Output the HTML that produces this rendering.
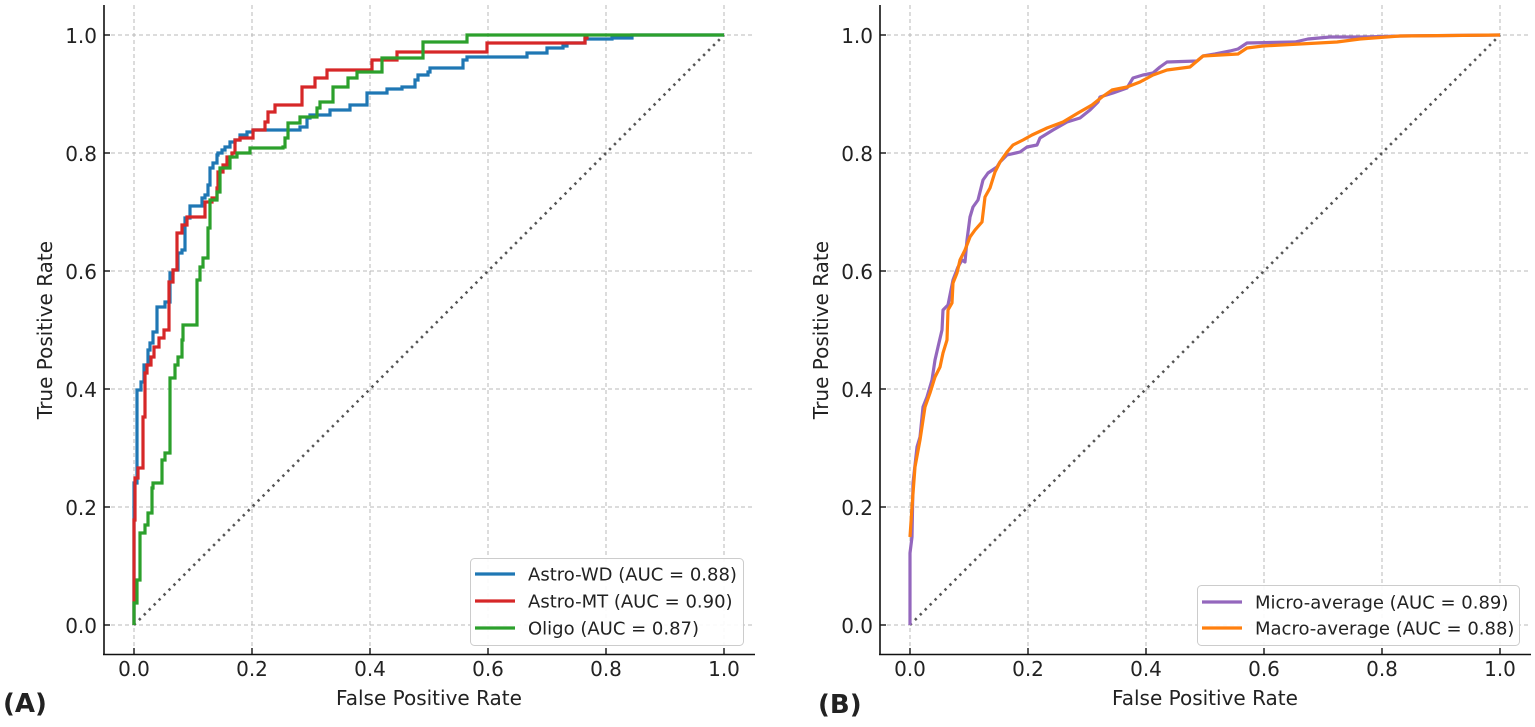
<!DOCTYPE html>
<html>
<head>
<meta charset="utf-8">
<style>
html,body{margin:0;padding:0;background:#fff;}
svg{display:block;}
text{font-family:"DejaVu Sans","Liberation Sans",sans-serif;fill:#222;}
</style>
</head>
<body>
<svg width="1535" height="727" viewBox="0 0 1535 727" xmlns="http://www.w3.org/2000/svg">
<rect width="1535" height="727" fill="#fff"/>

<!-- ================= PANEL A ================= -->
<g stroke="#b8b8b8" stroke-width="1" stroke-dasharray="4,3" fill="none">
  <line x1="134" y1="5" x2="134" y2="654"/>
  <line x1="252" y1="5" x2="252" y2="654"/>
  <line x1="370" y1="5" x2="370" y2="654"/>
  <line x1="488" y1="5" x2="488" y2="654"/>
  <line x1="606" y1="5" x2="606" y2="654"/>
  <line x1="724" y1="5" x2="724" y2="654"/>
  <line x1="104" y1="625" x2="754" y2="625"/>
  <line x1="104" y1="507" x2="754" y2="507"/>
  <line x1="104" y1="389" x2="754" y2="389"/>
  <line x1="104" y1="271" x2="754" y2="271"/>
  <line x1="104" y1="153" x2="754" y2="153"/>
  <line x1="104" y1="35" x2="754" y2="35"/>
</g>
<line x1="134" y1="625" x2="724" y2="35" stroke="#555" stroke-width="2.6" stroke-dasharray="2.4,4.6" />
<g fill="none" stroke-width="3.2" stroke-linejoin="miter">
<path stroke="#1f77b4" d="M134,625 V483 H137 V390 H141 V382 H144 V365 H148 V350 H150 V343 H153 V332 H157 V307 H165 V302 H170 V273 H173 V270 H178 V253 H182 V250 H185 V218 H190 V206 H202 V198 H205 V195 H208 V185 H210 V168 H213 V163 H217 V155 H218 V153 H222 V150 H225 V147 H230 V142 H235 V140 H240 V135 H247 V132 H253 V130 H300 V127 H307 V118 H310 V115 H330 V110 H350 V105 H367 V93 H387 V89 H402 V87 H415 V80 H418 V75 H428 V72 H430 V68 H463 V60 H467 V57 H527 V53 H547 V48 H563 V46 H567 V43 H585 V39 H612 V38 H632 V35 H724"/>
<path stroke="#d62728" d="M134,625 V520 H135 V478 H138 V468 H143 V417 H145 V373 H147 V365 H151 V357 H154 V347 H159 V338 H164 V330 H169 V282 H173 V270 H177 V233 H182 V225 H187 V217 H205 V202 H212 V198 H217 V188 H218 V172 H223 V165 H227 V157 H232 V153 H235 V140 H240 V138 H253 V130 H265 V122 H268 V112 H275 V105 H302 V87 H315 V78 H327 V70 H372 V60 H397 V52 H487 V43 H585 V38 H587 V35"/>
<path stroke="#2ca02c" d="M134,625 V603 H137 V580 H140 V533 H145 V525 H148 V513 H152 V488 H153 V483 H162 V460 H165 V453 H170 V378 H175 V365 H178 V357 H182 V340 H183 V325 H197 V280 H200 V267 H203 V258 H208 V228 H210 V200 H217 V192 H220 V168 H230 V157 H237 V153 H250 V148 H283 V147 H285 V138 H288 V123 H300 V117 H317 V108 H320 V102 H333 V87 H348 V78 H357 V72 H382 V58 H423 V50 V42 H467 V35 H724"/>
</g>
<!-- spines -->
<g stroke="#111" stroke-width="1.6">
  <line x1="104" y1="5" x2="104" y2="655"/>
  <line x1="103" y1="654.5" x2="755" y2="654.5"/>
</g>
<g stroke="#111" stroke-width="1.4">
  <line x1="104" y1="625" x2="110" y2="625"/>
  <line x1="104" y1="507" x2="110" y2="507"/>
  <line x1="104" y1="389" x2="110" y2="389"/>
  <line x1="104" y1="271" x2="110" y2="271"/>
  <line x1="104" y1="153" x2="110" y2="153"/>
  <line x1="104" y1="35" x2="110" y2="35"/>
  <line x1="134" y1="654" x2="134" y2="648"/>
  <line x1="252" y1="654" x2="252" y2="648"/>
  <line x1="370" y1="654" x2="370" y2="648"/>
  <line x1="488" y1="654" x2="488" y2="648"/>
  <line x1="606" y1="654" x2="606" y2="648"/>
  <line x1="724" y1="654" x2="724" y2="648"/>
</g>
<g font-size="20" text-anchor="end" dominant-baseline="central">
  <text x="97" y="626">0.0</text>
  <text x="97" y="508">0.2</text>
  <text x="97" y="390">0.4</text>
  <text x="97" y="272">0.6</text>
  <text x="97" y="154">0.8</text>
  <text x="97" y="36">1.0</text>
</g>
<g font-size="20" text-anchor="middle">
  <text x="134" y="676">0.0</text>
  <text x="252" y="676">0.2</text>
  <text x="370" y="676">0.4</text>
  <text x="488" y="676">0.6</text>
  <text x="606" y="676">0.8</text>
  <text x="724" y="676">1.0</text>
</g>
<text x="429" y="705" font-size="20" text-anchor="middle">False Positive Rate</text>
<text transform="translate(52,330) rotate(-90)" font-size="20" text-anchor="middle">True Positive Rate</text>
<!-- legend A -->
<rect x="470.5" y="558.5" width="273" height="87" rx="4" fill="#fff" fill-opacity="0.92" stroke="#cccccc" stroke-width="1"/>
<g stroke-width="3.2">
  <line x1="475" y1="574" x2="515" y2="574" stroke="#1f77b4"/>
  <line x1="475" y1="601" x2="515" y2="601" stroke="#d62728"/>
  <line x1="475" y1="628" x2="515" y2="628" stroke="#2ca02c"/>
</g>
<g font-size="18" dominant-baseline="central">
  <text x="528" y="575">Astro-WD (AUC = 0.88)</text>
  <text x="528" y="602">Astro-MT (AUC = 0.90)</text>
  <text x="528" y="629">Oligo (AUC = 0.87)</text>
</g>
<text x="3" y="712" font-size="26" font-weight="bold" fill="#111">(A)</text>

<!-- ================= PANEL B ================= -->
<g stroke="#b8b8b8" stroke-width="1" stroke-dasharray="4,3" fill="none">
  <line x1="910" y1="5" x2="910" y2="654"/>
  <line x1="1028" y1="5" x2="1028" y2="654"/>
  <line x1="1146" y1="5" x2="1146" y2="654"/>
  <line x1="1264" y1="5" x2="1264" y2="654"/>
  <line x1="1382" y1="5" x2="1382" y2="654"/>
  <line x1="1500" y1="5" x2="1500" y2="654"/>
  <line x1="880" y1="625" x2="1530" y2="625"/>
  <line x1="880" y1="507" x2="1530" y2="507"/>
  <line x1="880" y1="389" x2="1530" y2="389"/>
  <line x1="880" y1="271" x2="1530" y2="271"/>
  <line x1="880" y1="153" x2="1530" y2="153"/>
  <line x1="880" y1="35" x2="1530" y2="35"/>
</g>
<line x1="910" y1="625" x2="1500" y2="35" stroke="#555" stroke-width="2.6" stroke-dasharray="2.4,4.6" />
<g fill="none" stroke-width="3.2" stroke-linejoin="round">
<path stroke="#9467bd" d="M910,625 V553 L912,537 L913,483 L917,447 L920,437 L923,407 L927,397 L932,380 L935,360 L938,347 L942,330 L943,310 L948,305 L953,280 L958,267 L962,260 L965,262 L967,240 L970,217 L973,207 L978,200 L983,180 L988,173 L997,167 L1000,162 L1007,155 L1020,152 L1027,147 L1037,145 L1040,138 L1053,130 L1067,122 L1080,118 L1090,110 L1098,102 L1100,97 L1113,93 L1127,88 L1133,78 L1143,75 L1153,73 L1160,67 L1167,62 L1197,61 L1203,56 L1215,54 L1230,51 L1238,49 L1247,43 L1295,42 L1308,39 L1330,37 L1363,37 L1400,36 L1500,35"/>
<path stroke="#ff7f0e" d="M910,537 L912,507 L915,467 L920,440 L925,407 L930,393 L935,377 L940,367 L943,353 L947,340 L948,310 L952,303 L953,283 L957,273 L960,260 L965,250 L970,237 L975,230 L982,222 L985,197 L990,188 L995,172 L1000,162 L1007,152 L1013,145 L1023,140 L1032,135 L1047,128 L1063,122 L1078,113 L1092,105 L1102,97 L1112,90 L1127,87 L1140,82 L1153,75 L1167,70 L1190,67 L1203,56 L1238,54 L1247,48 L1263,46 L1300,44 L1337,42 L1360,39 L1400,36 L1500,35"/>
</g>
<g stroke="#111" stroke-width="1.6">
  <line x1="880" y1="5" x2="880" y2="655"/>
  <line x1="879" y1="654.5" x2="1531" y2="654.5"/>
</g>
<g stroke="#111" stroke-width="1.4">
  <line x1="880" y1="625" x2="886" y2="625"/>
  <line x1="880" y1="507" x2="886" y2="507"/>
  <line x1="880" y1="389" x2="886" y2="389"/>
  <line x1="880" y1="271" x2="886" y2="271"/>
  <line x1="880" y1="153" x2="886" y2="153"/>
  <line x1="880" y1="35" x2="886" y2="35"/>
  <line x1="910" y1="654" x2="910" y2="648"/>
  <line x1="1028" y1="654" x2="1028" y2="648"/>
  <line x1="1146" y1="654" x2="1146" y2="648"/>
  <line x1="1264" y1="654" x2="1264" y2="648"/>
  <line x1="1382" y1="654" x2="1382" y2="648"/>
  <line x1="1500" y1="654" x2="1500" y2="648"/>
</g>
<g font-size="20" text-anchor="end" dominant-baseline="central">
  <text x="873" y="626">0.0</text>
  <text x="873" y="508">0.2</text>
  <text x="873" y="390">0.4</text>
  <text x="873" y="272">0.6</text>
  <text x="873" y="154">0.8</text>
  <text x="873" y="36">1.0</text>
</g>
<g font-size="20" text-anchor="middle">
  <text x="910" y="676">0.0</text>
  <text x="1028" y="676">0.2</text>
  <text x="1146" y="676">0.4</text>
  <text x="1264" y="676">0.6</text>
  <text x="1382" y="676">0.8</text>
  <text x="1500" y="676">1.0</text>
</g>
<text x="1205" y="705" font-size="20" text-anchor="middle">False Positive Rate</text>
<text transform="translate(828,330) rotate(-90)" font-size="20" text-anchor="middle">True Positive Rate</text>
<!-- legend B -->
<rect x="1197.5" y="585.5" width="322" height="60" rx="4" fill="#fff" fill-opacity="0.92" stroke="#cccccc" stroke-width="1"/>
<g stroke-width="3.2">
  <line x1="1202" y1="602" x2="1242" y2="602" stroke="#9467bd"/>
  <line x1="1202" y1="628" x2="1242" y2="628" stroke="#ff7f0e"/>
</g>
<g font-size="18" dominant-baseline="central">
  <text x="1255" y="603">Micro-average (AUC = 0.89)</text>
  <text x="1255" y="629">Macro-average (AUC = 0.88)</text>
</g>
<text x="818" y="713" font-size="26" font-weight="bold" fill="#111">(B)</text>
</svg>
</body>
</html>
